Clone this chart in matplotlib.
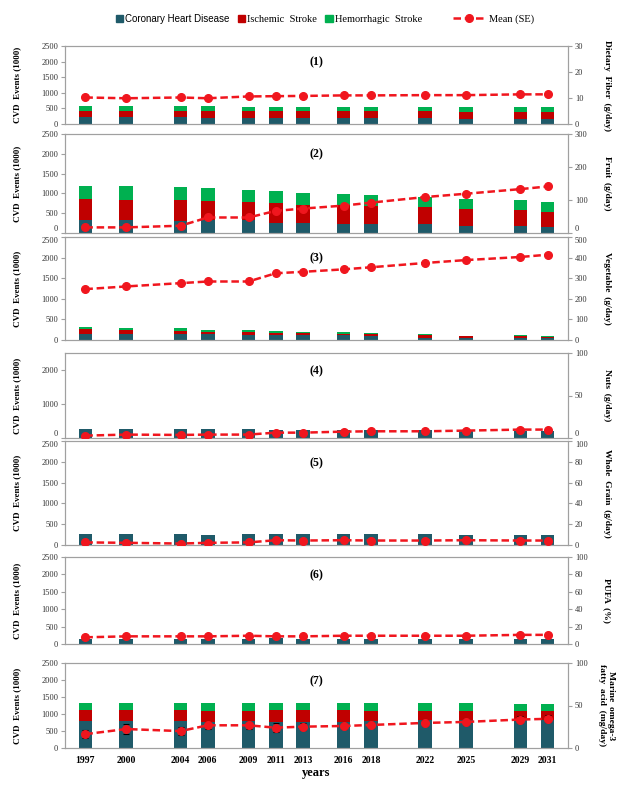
import matplotlib
matplotlib.use('Agg')
import matplotlib.pyplot as plt
from matplotlib.patches import Patch
from matplotlib.lines import Line2D

plt.rcParams['font.family'] = ['Liberation Serif', 'DejaVu Serif']

years = [1997, 2000, 2004, 2006, 2009, 2011, 2013, 2016, 2018, 2022, 2025, 2029, 2031]

# (1) dietary fiber
chd1 = [215, 210, 210, 205, 200, 195, 195, 190, 185, 180, 175, 170, 170]
is1 = [215, 215, 215, 215, 205, 210, 210, 215, 220, 225, 225, 230, 230]
hs1 = [150, 150, 150, 150, 145, 145, 145, 145, 145, 145, 145, 145, 145]
fiber = [10.2, 9.9, 10.2, 9.9, 10.6, 10.7, 10.8, 11.0, 11.0, 11.1, 11.1, 11.4, 11.4]

# (2) fruit
chd2 = [320, 320, 310, 320, 320, 260, 255, 235, 230, 225, 180, 175, 160]
is2 = [535, 510, 515, 480, 460, 495, 460, 480, 460, 420, 420, 410, 380]
hs2 = [330, 355, 330, 330, 315, 295, 305, 275, 275, 275, 250, 245, 250]
fruit = [17, 17, 22, 47, 47, 67, 74, 83, 92, 109, 119, 133, 141]

# (3) vegetable
chd3 = [150, 145, 140, 135, 130, 120, 115, 110, 100, 60, 45, 45, 40]
is3 = [110, 90, 80, 60, 65, 55, 45, 40, 35, 50, 45, 50, 35]
hs3 = [60, 60, 60, 50, 50, 40, 35, 40, 25, 25, 15, 15, 15]
veg = [247, 260, 276, 284, 284, 324, 331, 343, 353, 374, 388, 403, 414]

# (4) nuts
chd4 = [275, 275, 270, 270, 275, 245, 245, 225, 225, 225, 210, 220, 215]
is4 = [0] * 13
hs4 = [0] * 13
nuts = [2.8, 4.0, 3.6, 4.0, 4.0, 6.3, 6.3, 7.5, 7.9, 7.9, 8.7, 9.9, 9.9]

# (5) whole grain
chd5 = [255, 255, 255, 250, 255, 255, 255, 255, 255, 255, 250, 250, 250]
is5 = [0] * 13
hs5 = [0] * 13
grain = [2.5, 2.1, 1.4, 2.1, 2.5, 4.6, 4.3, 4.6, 4.3, 4.3, 4.6, 4.3, 4.3]

# (6) PUFA
chd6 = [150, 140, 135, 135, 140, 185, 150, 150, 150, 150, 135, 130, 130]
is6 = [0] * 13
hs6 = [0] * 13
pufa = [7.7, 8.8, 8.8, 8.8, 9.5, 8.8, 8.8, 9.5, 9.5, 9.5, 9.5, 10.5, 10.5]

# (7) marine omega-3
chd7 = [800, 800, 800, 770, 800, 770, 770, 770, 800, 820, 830, 830, 830]
is7 = [315, 315, 315, 315, 285, 345, 345, 345, 285, 265, 255, 255, 255]
hs7 = [210, 210, 210, 240, 240, 210, 210, 210, 240, 240, 240, 200, 200]
omega = [16.3, 22.3, 19.9, 26.7, 26.7, 23.9, 25.1, 25.9, 27.1, 29.5, 30.7, 33.5, 34.3]
se7 = [5, 6, 5, 4, 4, 5, 4, 4, 4, 4, 4, 4, 4]

panels = [
    (chd1, is1, hs1, fiber, None, 30, [0, 10, 20, 30], 'Dietary  Fiber  (g/day)'),
    (chd2, is2, hs2, fruit, None, 300, [0, 100, 200, 300], 'Fruit  (g/day)'),
    (chd3, is3, hs3, veg, None, 500, [0, 100, 200, 300, 400, 500], 'Vegetable  (g/day)'),
    (chd4, is4, hs4, nuts, None, 100, [0, 50, 100], 'Nuts  (g/day)'),
    (chd5, is5, hs5, grain, None, 100, [0, 20, 40, 60, 80, 100], 'Whole  Grain  (g/day)'),
    (chd6, is6, hs6, pufa, None, 100, [0, 20, 40, 60, 80, 100], 'PUFA  (%)'),
    (chd7, is7, hs7, omega, se7, 100, [0, 50, 100], 'Marine  omega-3\nfatty  acid  (mg/day)'),
]

# top / bottom of each panel in pixels
rows = [(46, 124), (134, 233), (237, 340), (353, 438), (441, 545), (557, 644), (663, 748)]

c_chd = '#1F5A69'
c_is = '#C00000'
c_hs = '#00B050'
c_mean = '#F0161E'
grey = '#A0A0A0'

fig = plt.figure(figsize=(6.25, 7.95), dpi=100)
W, H = 625.0, 795.0
x0, x1 = 65, 568


def squeeze_labels(a, i):
    # panels that nearly touch: lift the lower "0" and drop the upper top label
    labels = a.get_yticklabels()
    if i + 1 < len(rows) and rows[i + 1][0] - rows[i][1] < 6:
        labels[0].set_va('bottom')
    if i > 0 and rows[i][0] - rows[i - 1][1] < 6:
        labels[-1].set_va('top')


for i, (chd, isch, hem, mean, se, rmax, rticks, rlabel) in enumerate(panels):
    top, bot = rows[i]
    ax = fig.add_axes([x0 / W, 1 - bot / H, (x1 - x0) / W, (bot - top) / H])
    b2 = [a + b for a, b in zip(chd, isch)]
    ax.bar(years, chd, width=1.0, color=c_chd, zorder=2)
    ax.bar(years, isch, width=1.0, bottom=chd, color=c_is, zorder=2)
    ax.bar(years, hem, width=1.0, bottom=b2, color=c_hs, zorder=2)
    ax.set_xlim(1995.5, 2032.5)
    ax.set_ylim(0, 2500)
    if i == 3:
        ax.set_yticks([0, 1000, 2000])
    else:
        ax.set_yticks([0, 500, 1000, 1500, 2000, 2500])
    for s in ax.spines.values():
        s.set_color(grey)
    ax.tick_params(axis='y', colors=grey, labelcolor='#333333', labelsize=6, length=3, pad=2)
    ax.set_ylabel('CVD  Events (1000)', fontsize=6.5, fontweight='bold')
    ax.yaxis.set_label_coords(-0.088, 0.5)
    ax.text(0.5, 0.79, '(%d)' % (i + 1), transform=ax.transAxes, ha='center', va='center',
            fontsize=8.5, fontweight='bold')
    if i == 6:
        ax.set_xticks(years)
        ax.set_xticklabels([str(y) for y in years], fontsize=7, fontweight='bold')
        ax.tick_params(axis='x', length=0, pad=6)
        ax.set_xlabel('years', fontsize=9, fontweight='bold', labelpad=1)
    else:
        ax.set_xticks([])
    if i != 3:
        squeeze_labels(ax, i)

    ax2 = ax.twinx()
    if se is not None:
        ax2.errorbar(years, mean, yerr=se, fmt='none', ecolor='black', elinewidth=0.8,
                     capsize=2, capthick=0.8, zorder=3)
    ax2.plot(years, mean, color=c_mean, linestyle=(0, (3, 1.5)), linewidth=1.8,
             marker='o', markersize=5.5, zorder=4)
    ax2.set_ylim(0, rmax)
    ax2.set_yticks(rticks)
    ax2.set_xlim(1995.5, 2032.5)
    for s in ax2.spines.values():
        s.set_color(grey)
    ax2.tick_params(axis='y', colors=grey, labelcolor='#333333', labelsize=6, length=3, pad=2)
    ax2.set_ylabel(rlabel, fontsize=6.8, fontweight='bold', rotation=270, va='center',
                   linespacing=1.1)
    ax2.yaxis.set_label_coords(1.077, 0.5)
    squeeze_labels(ax2, i)

# panel 4 has no 2500 tick, so only its "0" needs lifting
fig.axes[6].get_yticklabels()[0].set_va('bottom')

h1 = [Patch(color=c_chd), Patch(color=c_is), Patch(color=c_hs)]
leg1 = fig.legend(h1, ['Coronary Heart Disease', 'Ischemic  Stroke', 'Hemorrhagic  Stroke'],
                  loc='center', bbox_to_anchor=(0.43, 0.976), ncol=3, frameon=False,
                  fontsize=7.5, handlelength=0.7, handleheight=0.7, handletextpad=0.2,
                  columnspacing=0.8, borderaxespad=0)
leg1.get_texts()[0].set_family(['Liberation Sans', 'DejaVu Sans'])
leg1.get_texts()[0].set_fontsize(7)
h2 = [Line2D([0], [0], color=c_mean, linestyle=(0, (3, 1.5)), linewidth=1.8,
             marker='o', markersize=5.5)]
fig.legend(h2, ['Mean (SE)'], loc='center', bbox_to_anchor=(0.79, 0.976), frameon=False,
           fontsize=7.5, handlelength=3, handletextpad=0.4, borderaxespad=0)

fig.savefig('out.png', dpi=100)
